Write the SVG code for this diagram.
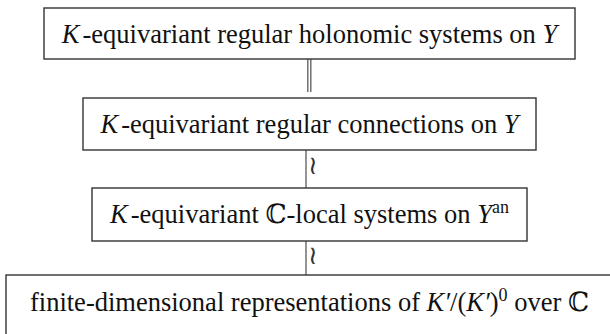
<svg xmlns="http://www.w3.org/2000/svg" width="610" height="334" viewBox="0 0 610 334">
<style>
.box{fill:#fff;stroke:#333;stroke-width:1.4}
.lbl{font-family:"Liberation Serif","DejaVu Serif",serif;font-size:26.5px;fill:#111;text-anchor:middle}
.it{font-style:italic}
.sup{font-size:18px}
.conn{stroke:#666;stroke-width:1.4;fill:none}
.iso{font-family:"DejaVu Sans","DejaVu Serif",sans-serif;font-size:26px;fill:#333}
</style>
<rect width="610" height="334" fill="#fff"/>
<g id="connectors">
<line class="conn" x1="307.8" y1="59" x2="307.8" y2="92"/>
<line class="conn" x1="310.8" y1="59" x2="310.8" y2="92"/>
<line class="conn" x1="306" y1="150" x2="306" y2="188"/>
<text class="iso" x="308" y="174">≀</text>
<line class="conn" x1="306" y1="241" x2="306" y2="275"/>
<text class="iso" x="308" y="264">≀</text>
</g>
<g id="n1">
<rect class="box" x="44" y="8" width="531" height="51"/>
<text class="lbl" x="309.5" y="43"><tspan class="it">K</tspan><tspan dx="3">-equivariant regular holonomic systems on </tspan><tspan class="it">Y</tspan></text>
</g>
<g id="n2">
<rect class="box" x="83" y="98" width="453" height="52"/>
<text class="lbl" x="309.5" y="133"><tspan class="it">K</tspan><tspan dx="3">-equivariant regular connections on </tspan><tspan class="it">Y</tspan></text>
</g>
<g id="n3">
<rect class="box" x="92" y="188" width="435" height="53"/>
<text class="lbl" x="309.5" y="223"><tspan class="it">K</tspan><tspan dx="3">-equivariant ℂ-local systems on </tspan><tspan class="it">Y</tspan><tspan class="sup" dy="-10">an</tspan></text>
</g>
<g id="n4">
<rect class="box" x="6" y="275" width="610" height="70"/>
<text class="lbl" x="309.5" y="311">finite-dimensional representations of <tspan class="it">K′</tspan>/(<tspan class="it">K′</tspan>)<tspan class="sup" dy="-10">0</tspan><tspan dy="10"> over ℂ</tspan></text>
</g>
</svg>
